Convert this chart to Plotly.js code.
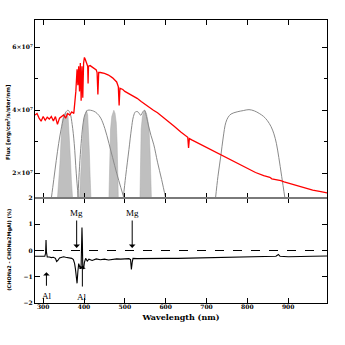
<!DOCTYPE html>
<html>
<head>
<meta charset="utf-8">
<script src="https://cdn.plot.ly/plotly-3.0.1.min.js"></script>
<style>
  html, body { margin: 0; padding: 0; background: #fff; }
  #plot { width: 345px; height: 345px; }
</style>
</head>
<body>
<div id="plot"></div>
<script>
// Model spectrum (flux in units of 1e7 erg/cm2/s/ster/nm)
let specWave = [280, 285, 290, 295, 300, 305, 310, 315, 320, 325, 330, 335, 340, 345, 350, 355, 360, 365, 370, 375,
  380, 383, 385, 387, 389, 391, 393, 395, 397, 399, 401, 403, 405, 407, 409, 410, 411, 415, 420, 425, 430, 432, 434, 436,
  440, 450, 460, 470, 480, 484, 486, 488, 495, 500, 510, 520, 530, 540, 550, 560, 570, 580, 588, 600, 620, 637, 650, 654,
  656, 658, 665, 680, 700, 720, 735, 760, 780, 800, 820, 840, 855, 860, 870, 882, 890, 900, 920, 940, 960, 980, 995];
let specFlux = [3.85, 3.9, 3.75, 3.65, 3.8, 3.68, 3.78, 3.72, 3.8, 3.66, 3.8, 3.55, 3.75, 3.8, 3.85, 3.75, 3.9, 3.85, 3.95, 3.9,
  4.6, 5.3, 4.8, 5.4, 4.6, 5.5, 4.3, 5.4, 4.4, 5.5, 5.68, 5.62, 5.55, 5.5, 5.4, 4.85, 5.4, 5.42, 5.38, 5.33, 5.28, 5.2, 4.5, 5.2,
  5.2, 5.17, 5.12, 5.03, 4.9, 4.75, 4.15, 4.7, 4.66, 4.6, 4.53, 4.46, 4.38, 4.28, 4.18, 4.08, 4.0, 3.92, 3.84, 3.72, 3.5, 3.31, 3.18, 3.14,
  2.8, 3.1, 3.05, 2.95, 2.82, 2.68, 2.57, 2.4, 2.27, 2.14, 2.02, 1.92, 1.87, 1.82, 1.8, 1.76, 1.72, 1.68, 1.6, 1.53, 1.46, 1.41, 1.37];

// Broad filter curves (gray lines)
let filtAWave = [320, 326, 332, 338, 344, 350, 356, 361, 366, 371, 376, 381, 386];
let filtAVal = [1.2, 1.8, 2.4, 2.95, 3.4, 3.75, 3.95, 4.0, 3.9, 3.55, 2.95, 2.0, 1.2];
let filtBWave = [385, 389, 393, 397, 402, 409, 416, 424, 432, 441, 451, 461, 470, 480, 490, 498];
let filtBVal = [1.2, 2.2, 2.95, 3.5, 3.85, 4.0, 4.0, 3.97, 3.9, 3.75, 3.42, 2.95, 2.5, 2.0, 1.55, 1.2];
let filtCWave = [496, 502, 510, 516, 521, 526, 532, 539, 544, 548, 553, 558, 564, 571, 580, 590, 600];
let filtCVal = [1.2, 1.9, 2.75, 3.4, 3.8, 3.95, 3.95, 3.84, 3.95, 4.0, 3.8, 3.5, 3.2, 2.9, 2.35, 1.8, 1.2];
let filtDWave = [722, 728, 735, 741, 747, 753, 760, 775, 790, 804, 817, 829, 840, 849, 858, 865, 871, 877, 884, 892];
let filtDVal = [1.2, 1.9, 2.55, 3.15, 3.6, 3.78, 3.88, 3.95, 3.99, 4.02, 3.98, 3.9, 3.8, 3.67, 3.48, 3.25, 2.95, 2.5, 1.9, 1.2];

// Narrow filters (shaded)
let band1Wave = [335, 338, 341, 344, 347, 352, 357, 361, 364, 367, 369, 372];
let band1Val = [1.2, 1.7, 2.3, 3.1, 3.7, 3.88, 3.9, 3.8, 3.2, 2.4, 1.8, 1.2];
let band2Wave = [389, 392, 395, 398, 401, 404, 406, 409, 411, 413, 415, 417];
let band2Val = [1.2, 2.0, 2.9, 3.5, 3.8, 3.98, 4.0, 3.85, 3.4, 2.7, 1.9, 1.2];
let band3Wave = [461, 463, 465, 468, 471, 473, 476, 479, 481, 482, 484];
let band3Val = [1.2, 2.3, 3.4, 3.8, 3.98, 4.0, 3.9, 3.6, 3.0, 2.2, 1.2];
let band4Wave = [537, 538, 540, 543, 546, 549, 553, 556, 559, 562, 564, 565];
let band4Val = [1.2, 2.2, 3.4, 3.8, 3.95, 4.0, 3.9, 3.7, 3.45, 2.6, 1.8, 1.2];

// Residual (%)
let resWave = [280, 290, 300, 304, 306, 307, 308, 310, 315, 320, 325, 330, 333, 336, 340, 345, 350, 355, 360, 365, 370, 374,
  377, 379, 381, 383, 385, 387, 389, 391, 393, 395, 396, 397, 399, 401, 404, 408, 412, 420, 430, 440, 450, 460, 470, 480,
  490, 500, 510, 514, 516, 518, 520, 530, 550, 570, 600, 630, 660, 690, 720, 740, 760, 790, 820, 850, 870, 876, 880, 900,
  930, 960, 995];
let resVal = [-0.22, -0.23, -0.24, -0.22, -0.1, 0.4, -0.05, -0.25, -0.25, -0.27, -0.26, -0.3, -0.42, -0.38, -0.28, -0.25,
  -0.24, -0.26, -0.27, -0.3, -0.3, -0.35, -0.5, -0.7, -0.9, -1.25, -0.8, -0.5, -0.6, -0.7, -0.55, 0.88, 0.3, -0.65, -0.7,
  -0.45, -0.3, -0.4, -0.33, -0.38, -0.32, -0.35, -0.33, -0.36, -0.33, -0.32, -0.33, -0.32, -0.31, -0.35, -0.72, -0.45, -0.3,
  -0.31, -0.3, -0.31, -0.3, -0.3, -0.29, -0.28, -0.27, -0.25, -0.26, -0.25, -0.25, -0.23, -0.22, -0.15, -0.22, -0.24, -0.22,
  -0.22, -0.21];

let fluxTicks = [2e7, 4e7, 6e7];
let fluxTickText = ["2×10<sup>7</sup>", "4×10<sup>7</sup>", "6×10<sup>7</sup>"];
let waveTicks = [300, 400, 500, 600, 700, 800, 900];
let resTicks = [-2, -1, 0, 1, 2];

let e7 = v => v * 1e7;
let tickFont = {family: "DejaVu Serif", size: 6, color: "#000", weight: "bold"};

function band(w, v) {
  return {
    x: w, y: v.map(e7), type: "scatter", mode: "lines",
    fill: "toself", fillcolor: "#bfbfbf",
    line: {color: "#a8a8a8", width: 0.5},
    xaxis: "x", yaxis: "y", hoverinfo: "skip"
  };
}
function filt(w, v) {
  return {
    x: w, y: v.map(e7), type: "scatter", mode: "lines",
    line: {color: "#8a8a8a", width: 1, shape: "spline"},
    xaxis: "x", yaxis: "y"
  };
}

let data = [
  band(band1Wave, band1Val),
  band(band2Wave, band2Val),
  band(band3Wave, band3Val),
  band(band4Wave, band4Val),
  filt(filtAWave, filtAVal),
  filt(filtBWave, filtBVal),
  filt(filtCWave, filtCVal),
  filt(filtDWave, filtDVal),
  {
    x: specWave, y: specFlux.map(e7), type: "scatter", mode: "lines",
    line: {color: "#ff0000", width: 1.3},
    xaxis: "x", yaxis: "y"
  },
  {
    x: resWave, y: resVal, type: "scatter", mode: "lines",
    line: {color: "#000", width: 1.1},
    xaxis: "x2", yaxis: "y2"
  }
];

let split = 0.371;

// arrows: [x, tipY, tailY]
let arrows = [[382, 0.1, 1.2], [518, 0.1, 1.2], [308, -0.83, -1.4], [396, -0.57, -1.43]];
let labels = [["Mg", 382, 1.43], ["Mg", 518, 1.43], ["Al", 309, -1.74], ["Al", 396, -1.77]];

let annotations = [];
arrows.forEach(a => annotations.push({
  x: a[0], y: a[1], ax: a[0], ay: a[2], xref: "x2", yref: "y2", axref: "x2", ayref: "y2",
  text: "", showarrow: true, arrowhead: 1, arrowsize: 1.1, arrowwidth: 1, arrowcolor: "#000"
}));
labels.forEach(l => annotations.push({
  x: l[1], y: l[2], xref: "x2", yref: "y2", text: l[0], showarrow: false,
  font: {family: "Liberation Serif", size: 9, color: "#000"}
}));
annotations.push({
  x: -0.093, y: 0.639, xref: "paper", yref: "paper", xanchor: "center", yanchor: "middle",
  textangle: -90, showarrow: false,
  text: "Flux [erg/cm<sup>2</sup>/s/ster/nm]",
  font: {family: "DejaVu Sans", size: 5.5, color: "#000", weight: "bold"}
});
annotations.push({
  x: -0.086, y: 0.188, xref: "paper", yref: "paper", xanchor: "center", yanchor: "middle",
  textangle: -90, showarrow: false,
  text: "(CHONa2 - CHONa2MgAl) (%)",
  font: {family: "DejaVu Sans", size: 5, color: "#000", weight: "bold"}
});

let frame = {
  showline: true, linecolor: "#000", linewidth: 1, mirror: "allticks",
  ticks: "inside", ticklen: 5, tickcolor: "#000", tickwidth: 1,
  showgrid: false, zeroline: false, tickfont: tickFont
};

let layout = {
  width: 345, height: 345,
  margin: {l: 34.5, r: 18, t: 19.5, b: 41.7},
  paper_bgcolor: "#fff", plot_bgcolor: "#fff",
  showlegend: false,
  xaxis: Object.assign({}, frame, {
    anchor: "y", range: [280, 995], tickvals: waveTicks, showticklabels: false
  }),
  xaxis2: Object.assign({}, frame, {
    anchor: "y2", range: [280, 995], tickvals: waveTicks, matches: "x",
    ticklabelstandoff: -2,
    title: {text: "Wavelength (nm)", standoff: 5,
      font: {family: "DejaVu Serif", size: 8, color: "#000", weight: "bold"}}
  }),
  yaxis: Object.assign({}, frame, {
    domain: [split, 1], anchor: "x", range: [1.21e7, 6.87e7],
    tickvals: fluxTicks, ticktext: fluxTickText,
    minor: {tickvals: [3e7, 5e7], ticks: "inside", ticklen: 3, tickcolor: "#000"}
  }),
  yaxis2: Object.assign({}, frame, {
    domain: [0, split], anchor: "x2", range: [-2, 2], tickvals: resTicks
  }),
  shapes: [
    {type: "line", xref: "x2", yref: "y2", x0: 280, x1: 995, y0: 0, y1: 0,
      line: {color: "#000", width: 1, dash: "dash"}},
    {type: "line", xref: "paper", yref: "paper", x0: 0, x1: 1, y0: split, y1: split,
      line: {color: "#7a7a7a", width: 2}, layer: "above"}
  ],
  annotations: annotations
};

Plotly.newPlot("plot", data, layout, {displayModeBar: false, staticPlot: true});
</script>
</body>
</html>
